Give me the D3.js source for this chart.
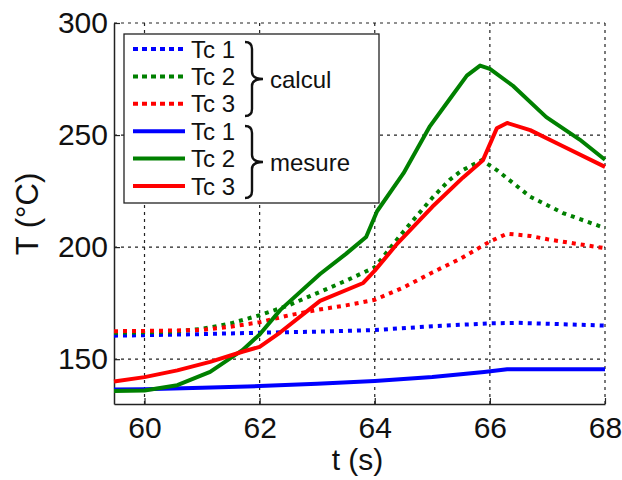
<!DOCTYPE html>
<html><head><meta charset="utf-8">
<script src="https://cdn.jsdelivr.net/npm/d3@7"></script>
<style>body{margin:0;background:#fff}svg{display:block}text{font-family:"Liberation Sans",Arial,sans-serif}</style>
</head><body><svg id="c" width="622" height="480"></svg>
<script>
const xTicks = [60, 62, 64, 66, 68];
const yTicks = [150, 200, 250, 300];
const xDomain = [59.47, 68];
const yDomain = [130, 300];
const legendLabels = ["Tc 1", "Tc 2", "Tc 3", "Tc 1", "Tc 2", "Tc 3"];
const groupLabels = ["calcul", "mesure"];
const colors = ["#0000ff", "#008000", "#ff0000"];

const calc1 = [[59.47,160.5],[60,160.7],[61,161.2],[62,161.8],[63,162.3],[64,163],[65,164.7],[66,166],[66.5,166.2],[67,165.8],[68,165]];
const calc2 = [[59.47,161.8],[60,162],[60.5,162.3],[61,163.5],[61.5,166],[62,169.6],[62.5,174],[63,179.5],[63.5,185],[64,191],[64.5,207],[65,222],[65.3,230],[65.5,234],[65.86,238.8],[66.12,234.4],[66.7,222.5],[67.27,215.2],[68,208.5]];
const calc3 = [[59.47,162.5],[60,162.6],[61,163],[61.5,164.5],[62,166.5],[62.5,169.5],[63,172],[63.5,174],[64,176.5],[64.5,182],[65,188.7],[65.5,195],[66,202.5],[66.3,206],[66.7,205],[67,203.5],[67.5,201.5],[68,199.5]];
const mes1 = [[59.47,136.5],[60,136.6],[61,137.2],[62,138],[63,139],[64,140.3],[65,142],[65.9,144.3],[66.3,145.5],[68,145.5]];
const mes2 = [[59.47,135.8],[60,136],[60.57,138.4],[61.14,144.3],[61.7,154],[62,161],[62.36,172],[63.05,188],[63.5,197],[63.85,204.5],[64.04,216],[64.5,233],[64.96,254],[65.3,266],[65.6,276.5],[65.83,281],[66,279.5],[66.4,272],[66.98,258],[67.56,248],[68,239]];
const mes3 = [[59.47,140],[60,142],[60.57,145],[61.14,148.8],[61.7,153.3],[62,155.5],[62.36,162],[63.05,176],[63.8,184],[64,189.5],[64.4,201.8],[65,218],[65.53,231],[65.88,238.8],[66.12,253],[66.3,255.4],[66.7,252.2],[67.27,245],[68,235.8]];

const calcSeries = [calc1, calc2, calc3];
const mesSeries = [mes1, mes2, mes3];

const svg = d3.select("#c");
const m = {l:114, r:605, t:23, b:404};
const x = d3.scaleLinear().domain(xDomain).range([m.l, m.r]);
const y = d3.scaleLinear().domain(yDomain).range([m.b, m.t]);

// grid
const grid = svg.append("g").attr("stroke","#222").attr("stroke-width",1.2).attr("stroke-dasharray","3,4");
xTicks.forEach(v => grid.append("line").attr("x1",x(v)).attr("x2",x(v)).attr("y1",m.b).attr("y2",m.t));
yTicks.forEach(v => grid.append("line").attr("x1",m.l).attr("x2",m.r).attr("y1",y(v)).attr("y2",y(v)));

// axes
const ax = svg.append("g").attr("transform",`translate(0,${m.b})`)
  .call(d3.axisBottom(x).tickValues(xTicks).tickSize(-6).tickPadding(13).tickSizeOuter(0));
const ay = svg.append("g").attr("transform",`translate(${m.l},0)`)
  .call(d3.axisLeft(y).tickValues(yTicks).tickSize(-6).tickPadding(6).tickSizeOuter(0));
[ax, ay].forEach(g => {
  g.selectAll("path.domain").attr("stroke","#222").attr("stroke-width",1.5);
  g.selectAll(".tick line").attr("stroke","#222").attr("stroke-width",1.2);
  g.selectAll("text").attr("font-size",30).attr("fill","#111").attr("font-family","Liberation Sans, Arial, sans-serif");
});

// lines
const line = d3.line().x(d => x(d[0])).y(d => y(d[1]));
calcSeries.forEach((s,i) => svg.append("path").datum(s).attr("d",line).attr("fill","none")
  .attr("stroke",colors[i]).attr("stroke-width",4).attr("stroke-dasharray","4,5"));
mesSeries.forEach((s,i) => svg.append("path").datum(s).attr("d",line).attr("fill","none")
  .attr("stroke",colors[i]).attr("stroke-width",4).attr("stroke-linejoin","round"));

// axis titles
svg.append("text").attr("x",(m.l+m.r)/2 - 2).attr("y",470).attr("text-anchor","middle")
  .attr("font-size",30).attr("fill","#111").text("t (s)");
svg.append("text").attr("transform","translate(38,214) rotate(-90)").attr("text-anchor","middle")
  .attr("font-size",31).attr("fill","#111").text("T (°C)");

// legend
const lg = svg.append("g");
lg.append("rect").attr("x",124).attr("y",34).attr("width",255).attr("height",169)
  .attr("fill","#fff").attr("stroke","#222").attr("stroke-width",1.3);
const rowY = i => 49 + i*27.4;
legendLabels.forEach((lab,i) => {
  const c = colors[i%3];
  const yy = rowY(i);
  lg.append("line").attr("x1",133).attr("x2",185).attr("y1",yy).attr("y2",yy)
    .attr("stroke",c).attr("stroke-width",4).attr("stroke-dasharray", i<3 ? "5,4" : null);
  lg.append("text").attr("x",191).attr("y",yy+8.5).attr("font-size",24).attr("fill","#111").text(lab);
});
function brace(y0, y1) {
  const xm = 252, xs = 245, tip = 263, ym = (y0+y1)/2;
  return `M${xs},${y0} Q${xm},${y0} ${xm},${y0+7} L${xm},${ym-7} Q${xm},${ym} ${tip},${ym}`
       + ` Q${xm},${ym} ${xm},${ym+7} L${xm},${y1-7} Q${xm},${y1} ${xs},${y1}`;
}
[[42,116],[126,198]].forEach((b,i) => {
  lg.append("path").attr("d",brace(b[0],b[1])).attr("fill","none").attr("stroke","#111").attr("stroke-width",2.4);
  lg.append("text").attr("x",270).attr("y",(b[0]+b[1])/2+8.5).attr("font-size",24).attr("fill","#111").text(groupLabels[i]);
});
</script></body></html>
